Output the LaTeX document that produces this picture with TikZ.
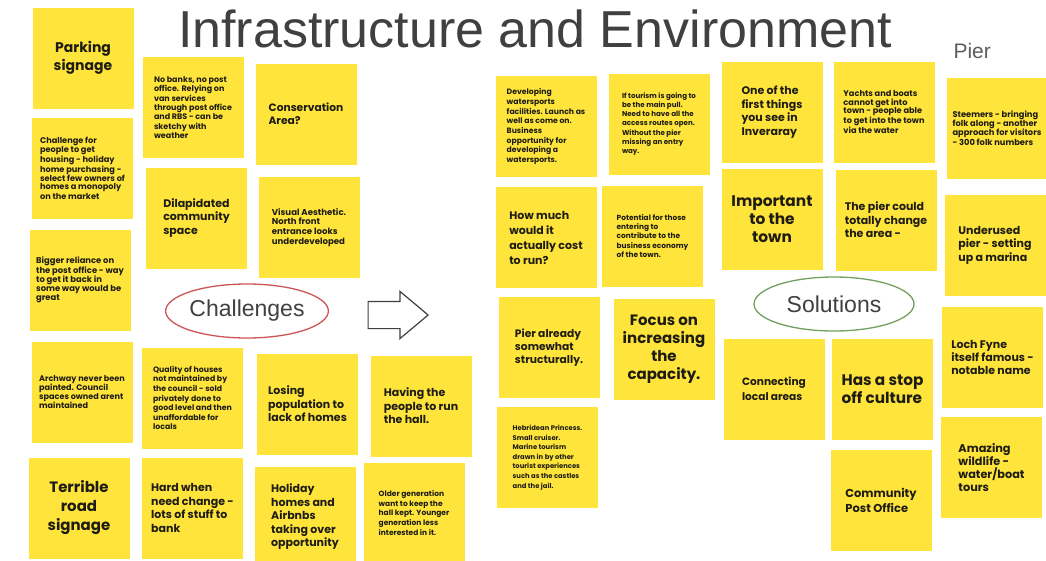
\documentclass[tikz,border=0pt]{standalone}
\usepackage{fontspec}
\setmainfont{Liberation Sans}
\newfontfamily\notefont{Poppins}
\usetikzlibrary{shapes.geometric, shapes.arrows}
\definecolor{notey}{RGB}{255,229,59}
\definecolor{notetxt}{RGB}{30,28,20}
\definecolor{headgray}{RGB}{64,64,64}
\definecolor{chred}{RGB}{205,85,85}
\definecolor{sogreen}{RGB}{115,160,95}
\tikzset{
note/.style={fill=notey, minimum width=101, minimum height=101, inner sep=0pt, align=left, text=notetxt},
txs/.style 2 args={font=\notefont\bfseries\fontsize{#1}{#2}\selectfont},
txm/.style={font=\notefont\bfseries\fontsize{10.7}{13.3}\selectfont},
txl/.style={font=\notefont\bfseries\fontsize{11}{13.5}\selectfont},
txxl/.style={font=\notefont\bfseries\fontsize{#1}{18}\selectfont, align=center},
txxl/.default=14,
bubble/.style={ellipse, draw, line width=1.3pt, fill=white, minimum width=160, minimum height=54, inner sep=0pt, text=headgray, font=\fontsize{23}{23}\selectfont},
}

\begin{document}
\begin{tikzpicture}[x=1pt, y=-1pt]
    \clip (0,0) rectangle (1046,560);
    \fill[white] (0,0) rectangle (1046,560);
    \node[anchor=base, text=headgray, font=\fontsize{52}{52}\selectfont] (title) at (535,47) {Infrastructure and Environment};
    \node[anchor=base west, text=headgray!85, font=\fontsize{21}{21}\selectfont] (pier) at (950,58) {Pier};
    % challenges
    \node[note, txxl] (parking) at (83,58) {Parking\\signage};
    \node[note, txs={8.2}{8.2}] (housing) at (82.5,168) {Challenge for\\people to get\\housing - holiday\\home purchasing -\\select few owners of\\homes a monopoly\\on the market};
    \node[note, txs={8.4}{9}] (reliance) at (80,280) {Bigger reliance on\\the post office - way\\to get it back in\\some way would be\\great};
    \node[note, txs={8.1}{8.6}] (archway) at (82,392) {Archway never been\\painted. Council\\spaces owned arent\\maintained};
    \node[note, font=\notefont\bfseries\fontsize{15}{19}\selectfont, align=center] (roadsign) at (79,508) {Terrible\\road\\signage};
    \node[note, txs={8}{9.3}] (banks) at (193,107.5) {No banks, no post\\office. Relying on\\van services\\through post office\\and RBS - can be\\sketchy with\\weather};
    \node[note, txm] (conserv) at (306,114) {Conservation\\Area?};
    \node[note, txl] (dilap) at (196.5,218) {Dilapidated\\community\\space};
    \node[note, txs={8.6}{9.8}] (visual) at (309,227.5) {Visual Aesthetic.\\North front\\entrance looks\\underdeveloped};
    \node[note, txs={7.8}{9.6}] (quality) at (192.5,398) {Quality of houses\\not maintained by\\the council - sold\\privately done to\\good level and then\\unaffordable for\\locals};
    \node[note, txl] (losing) at (307.5,404) {Losing\\population to\\lack of homes};
    \node[note, txl] (hall) at (421,406) {Having the\\people to run\\the hall.};
    \node[note, txl] (change) at (192.5,508) {Hard when\\need change -\\lots of stuff to\\bank};
    \node[note, txl] (airbnb) at (305,517) {Holiday\\homes and\\Airbnbs\\taking over\\opportunity};
    \node[note, txs={7.5}{9.6}] (oldgen) at (414,513) {Older generation\\want to keep the\\hall kept. Younger\\generation less\\interested in it.};
    \node[bubble, draw=chred] (challenges) at (247,311) {Challenges};
    \node[single arrow, draw=headgray, fill=white, line width=1.2pt, minimum height=60, inner sep=13pt, single arrow head extend=10pt, single arrow tip angle=80] (arrow) at (390,315) {};
    % solutions
    \node[note, txs={7.7}{9.7}] (watersp) at (546,126.5) {Developing\\watersports\\facilities. Launch as\\well as come on.\\Business\\opportunity for\\developing a\\watersports.};
    \node[note, txs={7.1}{9.3}] (tourism) at (659,124) {If tourism is going to\\be the main pull.\\Need to have all the\\access routes open.\\Without the pier\\missing an entry\\way.};
    \node[note, font=\notefont\bfseries\fontsize{11}{15}\selectfont] (cost) at (546,237.5) {How much\\would it\\actually cost\\to run?};
    \node[note, txs={7.4}{9.2}] (potential) at (652.5,236) {Potential for those\\entering to\\contribute to the\\business economy\\of the town.};
    \node[note, txl] (firstsee) at (772,112) {One of the\\first things\\you see in\\Inveraray};
    \node[note, txs={8.2}{8.6}] (yachts) at (884,112) {Yachts and boats\\cannot get into\\town - people able\\to get into the town\\via the water};
    \node[note, txs={8.3}{9.2}] (steemers) at (997,128) {Steemers - bringing\\folk along - another\\approach for visitors\\- 300 folk numbers};
    \node[note, txxl=15.4] (important) at (772,219) {Important\\to the\\town};
    \node[note, txl] (changearea) at (886,220) {The pier could\\totally change\\the area -};
    \node[note, txl] (underused) at (995,245) {Underused\\pier - setting\\up a marina};
    \node[note, txm] (structural) at (549,347.5) {Pier already\\somewhat\\structurally.};
    \node[note, txxl=15] (capacity) at (664,349) {Focus on\\increasing\\the\\capacity.};
    \node[note, txs={6.8}{9.6}] (hebridean) at (547.5,457.5) {Hebridean Princess.\\Small cruiser.\\Marine tourism\\drawn in by other\\tourist experiences\\such as the castles\\and the jail.};
    \node[note, font=\notefont\bfseries\fontsize{10.6}{15}\selectfont] (connecting) at (774,389) {Connecting\\local areas};
    \node[note, txxl=15.3, align=left] (stopoff) at (882.5,389) {Has a stop\\off culture};
    \node[note, font=\notefont\bfseries\fontsize{11}{13.3}\selectfont] (lochfyne) at (992.5,357.5) {Loch Fyne\\itself famous -\\notable name};
    \node[note, font=\notefont\bfseries\fontsize{11.3}{13.3}\selectfont] (wildlife) at (991.5,467.5) {Amazing\\wildlife -\\water/boat\\tours};
    \node[note, font=\notefont\bfseries\fontsize{11.5}{15}\selectfont] (postoffice) at (881,500) {Community\\Post Office};
    \node[bubble, draw=sogreen] (solutions) at (834,304) {Solutions};
\end{tikzpicture}
\end{document}
